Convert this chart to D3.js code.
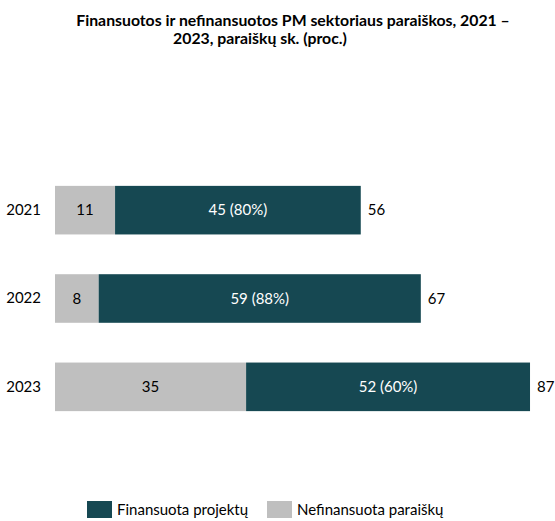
<!DOCTYPE html>
<html><head><meta charset="utf-8">
<script src="https://cdn.jsdelivr.net/npm/d3@7"></script>
<style>body{margin:0;background:#fff}svg{display:block}text{font-family:Lato,"Open Sans",sans-serif}</style>
</head><body>
<svg id="c" width="555" height="521"></svg>
<script>
const years = ["2021", "2022", "2023"];
const funded = [45, 59, 52];
const unfunded = [11, 8, 35];
const fundedPct = ["80%", "88%", "60%"];
const seriesNames = ["Finansuota projektų", "Nefinansuota paraiškų"];
const colors = {funded: "#164852", unfunded: "#bfbfbf"};

const svg = d3.select("#c");
const x = d3.scaleLinear().domain([0, 100]).range([55, 601]);
const y = d3.scaleBand().domain(years).range([166, 431]).paddingInner(0.45).paddingOuter(0.225);

// title
const t = svg.append("g").attr("font-weight", "bold").attr("font-size", 15.8).attr("fill", "#000").attr("text-anchor", "middle");
t.append("text").attr("x", 293).attr("y", 26).text("Finansuotos ir nefinansuotos PM sektoriaus paraiškos, 2021  –");
t.append("text").attr("x", 260).attr("y", 44).text("2023, paraiškų sk. (proc.)");

const rows = years.map((yr, i) => ({yr, f: funded[i], u: unfunded[i], p: fundedPct[i]}));
const g = svg.append("g");
const row = g.selectAll("g").data(rows).join("g");

row.append("rect").attr("x", x(0)).attr("y", d => y(d.yr)).attr("height", y.bandwidth())
  .attr("width", d => x(d.u) - x(0)).attr("fill", colors.unfunded);
row.append("rect").attr("x", d => x(d.u)).attr("y", d => y(d.yr)).attr("height", y.bandwidth())
  .attr("width", d => x(d.u + d.f) - x(d.u)).attr("fill", colors.funded);

const fs = 15;
row.append("text").attr("x", d => (x(0) + x(d.u)) / 2).attr("y", d => y(d.yr) + y.bandwidth() / 2 + 5)
  .attr("text-anchor", "middle").attr("font-size", fs).attr("fill", "#000").text(d => d.u);
row.append("text").attr("x", d => (x(d.u) + x(d.u + d.f)) / 2).attr("y", d => y(d.yr) + y.bandwidth() / 2 + 5)
  .attr("text-anchor", "middle").attr("font-size", fs).attr("fill", "#fff").text(d => `${d.f} (${d.p})`);
row.append("text").attr("x", d => x(d.u + d.f) + 7).attr("y", d => y(d.yr) + y.bandwidth() / 2 + 5)
  .attr("font-size", fs).attr("fill", "#000").text(d => d.u + d.f);

// y axis labels
const ax = svg.append("g").attr("transform", "translate(44,0)")
  .call(d3.axisLeft(y).tickSize(0).tickPadding(3));
ax.select(".domain").remove();
ax.selectAll("text").attr("font-size", fs).attr("fill", "#000").attr("font-family", "Lato, 'Open Sans', sans-serif");

// legend
const leg = svg.append("g");
const items = [{n: seriesNames[0], c: colors.funded, x: 87}, {n: seriesNames[1], c: colors.unfunded, x: 267}];
items.forEach(it => {
  leg.append("rect").attr("x", it.x).attr("y", 501).attr("width", 25).attr("height", 17).attr("fill", it.c);
  leg.append("text").attr("x", it.x + 30).attr("y", 515).attr("font-size", fs).attr("fill", "#000").text(it.n);
});
</script>
</body></html>
